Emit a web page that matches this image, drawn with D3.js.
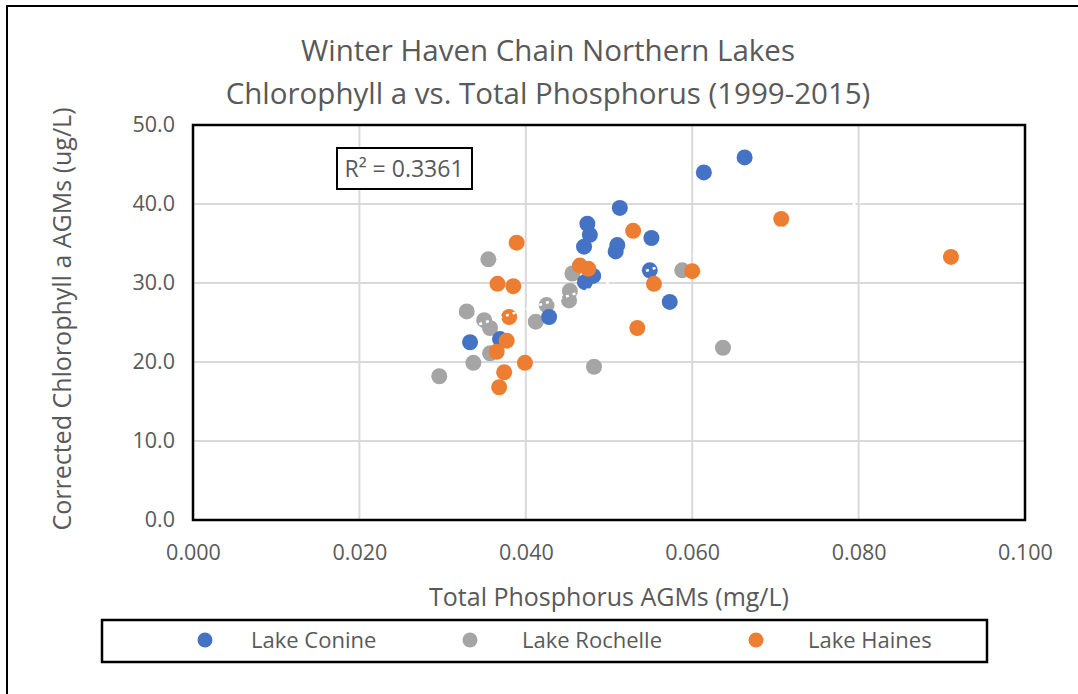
<!DOCTYPE html>
<html>
<head>
<meta charset="utf-8">
<script src="https://cdn.jsdelivr.net/npm/d3@7"></script>
<style>
  body { margin: 0; background: #fff; }
  svg text { font-family: "Open Sans", sans-serif; fill: #595959; }
</style>
</head>
<body>
<div id="chart"></div>
<script>
// values
const titleLines = ['Winter Haven Chain Northern Lakes', 'Chlorophyll a vs. Total Phosphorus (1999-2015)'];
const xTicks = [0, 0.02, 0.04, 0.06, 0.08, 0.1];
const yTicks = [0, 10, 20, 30, 40, 50];
const seriesNames = ['Lake Conine', 'Lake Rochelle', 'Lake Haines'];
const seriesColors = ['#4472c4', '#a5a5a5', '#ed7d31'];

const conineTP  = [0.0663, 0.0614, 0.0513, 0.0551, 0.0510, 0.0508, 0.0474, 0.0477, 0.0470, 0.0471, 0.0481, 0.0549, 0.0573, 0.0428, 0.0333, 0.0369];
const conineChl = [45.9, 44.0, 39.5, 35.7, 34.8, 34.0, 37.5, 36.1, 34.6, 30.1, 30.9, 31.6, 27.6, 25.7, 22.5, 22.9];

const rochelleTP  = [0.0355, 0.0588, 0.0637, 0.0482, 0.0329, 0.0350, 0.0357, 0.0337, 0.0296, 0.0357, 0.0412, 0.0425, 0.0453, 0.0452, 0.0456];
const rochelleChl = [33.0, 31.6, 21.8, 19.4, 26.4, 25.3, 24.3, 19.9, 18.2, 21.1, 25.1, 27.2, 29.0, 27.8, 31.2];

const hainesTP  = [0.0707, 0.0911, 0.0600, 0.0529, 0.0554, 0.0534, 0.0389, 0.0366, 0.0385, 0.0465, 0.0475, 0.0380, 0.0377, 0.0365, 0.0399, 0.0374, 0.0368];
const hainesChl = [38.1, 33.3, 31.5, 36.6, 29.9, 24.3, 35.1, 29.9, 29.6, 32.2, 31.8, 25.7, 22.7, 21.3, 19.9, 18.7, 16.8];

// linear trendline (drawn in white in the original)
const trendRange = [0.0296, 0.0911];
const trendSlope = 336.7;
const trendIntercept = 13.2;
const rSquaredLabel = 'R\u00b2 = 0.3361';

const W = 1078, H = 694;
const plot = {left: 193, right: 1025, top: 125, bottom: 520};

const svg = d3.select('#chart').append('svg')
  .attr('width', W).attr('height', H);

// outer chart border
svg.append('rect')
  .attr('x', 7).attr('y', 6)
  .attr('width', W + 10).attr('height', H + 10)
  .attr('fill', 'none').attr('stroke', '#000').attr('stroke-width', 2);

const x = d3.scaleLinear().domain([0, 0.1]).range([plot.left, plot.right]);
const y = d3.scaleLinear().domain([0, 50]).range([plot.bottom, plot.top]);

// title
svg.selectAll('text.title')
  .data(titleLines)
  .enter()
  .append('text')
  .attr('class', 'title')
  .attr('x', 548)
  .attr('y', function(d, i) { return 61 + i * 43; })
  .attr('text-anchor', 'middle')
  .style('font-size', '29.5px')
  .text(function(d) { return d; });

// gridlines
const grid = svg.append('g');
grid.selectAll('line.h')
  .data(yTicks.filter(function(d) { return d > 0 && d < 50; }))
  .enter().append('line')
  .attr('x1', plot.left).attr('x2', plot.right)
  .attr('y1', function(d) { return y(d); })
  .attr('y2', function(d) { return y(d); })
  .attr('stroke', '#d9d9d9').attr('stroke-width', 2);
grid.selectAll('line.v')
  .data(xTicks.filter(function(d) { return d > 0 && d < 0.1; }))
  .enter().append('line')
  .attr('y1', plot.top).attr('y2', plot.bottom)
  .attr('x1', function(d) { return x(d); })
  .attr('x2', function(d) { return x(d); })
  .attr('stroke', '#d9d9d9').attr('stroke-width', 2);

// axes (labels only)
const xAxis = svg.append('g')
  .attr('transform', 'translate(0,' + plot.bottom + ')')
  .call(d3.axisBottom(x).tickValues(xTicks).tickFormat(d3.format('.3f')).tickSize(0).tickPadding(25));
const yAxis = svg.append('g')
  .attr('transform', 'translate(' + plot.left + ',0)')
  .call(d3.axisLeft(y).tickValues(yTicks).tickFormat(d3.format('.1f')).tickSize(0).tickPadding(18));
[xAxis, yAxis].forEach(function(a) {
  a.select('.domain').remove();
  a.selectAll('text').style('font-size', '21.5px').style('font-family', '"Open Sans", sans-serif').attr('fill', '#595959');
});

// axis titles
svg.append('text')
  .attr('x', 609).attr('y', 606)
  .attr('text-anchor', 'middle')
  .style('font-size', '25px')
  .text('Total Phosphorus AGMs (mg/L)');
svg.append('text')
  .attr('transform', 'translate(71,319) rotate(-90)')
  .attr('text-anchor', 'middle')
  .style('font-size', '25px')
  .text('Corrected Chlorophyll a AGMs (ug/L)');

// points: Rochelle first, then Conine, then Haines on top
const series = [
  {name: seriesNames[1], color: seriesColors[1], tp: rochelleTP, chl: rochelleChl},
  {name: seriesNames[0], color: seriesColors[0], tp: conineTP, chl: conineChl},
  {name: seriesNames[2], color: seriesColors[2], tp: hainesTP, chl: hainesChl},
];
series.forEach(function(s) {
  svg.append('g').selectAll('circle')
    .data(s.tp.map(function(v, i) { return [v, s.chl[i]]; }))
    .enter().append('circle')
    .attr('cx', function(d) { return x(d[0]); })
    .attr('cy', function(d) { return y(d[1]); })
    .attr('r', 8)
    .attr('fill', s.color);
});

// white dotted trendline
svg.append('line')
  .attr('x1', x(trendRange[0])).attr('y1', y(trendIntercept + trendSlope * trendRange[0]))
  .attr('x2', x(trendRange[1])).attr('y2', y(trendIntercept + trendSlope * trendRange[1]))
  .attr('stroke', '#fff').attr('stroke-width', 2.5)
  .attr('stroke-dasharray', '3,4');

// plot frame
svg.append('rect')
  .attr('x', plot.left).attr('y', plot.top)
  .attr('width', plot.right - plot.left).attr('height', plot.bottom - plot.top)
  .attr('fill', 'none').attr('stroke', '#000').attr('stroke-width', 2.5);

// R squared box
svg.append('rect')
  .attr('x', 337).attr('y', 148).attr('width', 135).attr('height', 41)
  .attr('fill', '#fff').attr('stroke', '#000').attr('stroke-width', 2);
svg.append('text')
  .attr('x', 404).attr('y', 177)
  .attr('text-anchor', 'middle')
  .style('font-size', '23px')
  .text(rSquaredLabel);

// legend
const legend = svg.append('g');
legend.append('rect')
  .attr('x', 102).attr('y', 620).attr('width', 885).attr('height', 42)
  .attr('fill', '#fff').attr('stroke', '#000').attr('stroke-width', 2.5);
const legendMarkX = [205, 470, 756];
const legendTextX = [251, 522, 808];
const legendItems = legend.selectAll('g.item')
  .data(seriesNames)
  .enter().append('g');
legendItems.append('circle')
  .attr('cx', function(d, i) { return legendMarkX[i]; })
  .attr('cy', 640)
  .attr('r', 7.5)
  .attr('fill', function(d, i) { return seriesColors[i]; });
legendItems.append('text')
  .attr('x', function(d, i) { return legendTextX[i]; })
  .attr('y', 648)
  .style('font-size', '22px')
  .text(function(d) { return d; });
</script>
</body>
</html>
